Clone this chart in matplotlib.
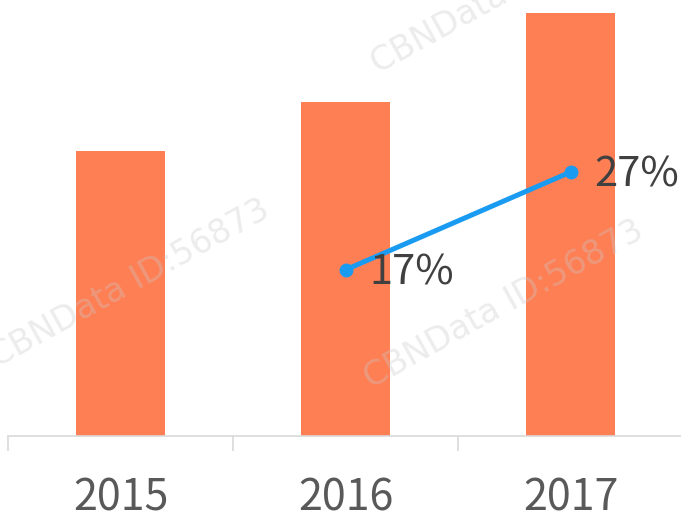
import matplotlib.pyplot as plt

years = ["2015", "2016", "2017"]
bar_values = [285, 334, 423]
growth_years = [1, 2]
growth = [17, 27]
growth_labels = ["17%", "27%"]

plt.rcParams["font.family"] = ["Noto Sans CJK SC", "DejaVu Sans"]

fig = plt.figure(figsize=(6.81, 5.16), dpi=100)
ax = fig.add_axes([8 / 681, 80 / 516, 675 / 681, 436 / 516])
x = range(len(years))
ax.bar(x, bar_values, width=0.395, color="#FF7F55", zorder=2)
ax.set_xlim(-0.5, 2.5)
ax.set_ylim(0, 436)
ax.set_yticks([])
for s in ["top", "left", "right"]:
    ax.spines[s].set_visible(False)
ax.spines["bottom"].set_color("#D9D9D9")
ax.spines["bottom"].set_linewidth(1.2)
ax.set_xticks([-0.5, 0.5, 1.5, 2.5])
ax.set_xticklabels([])
ax.tick_params(axis="x", length=11, width=1.2, color="#D9D9D9")
ax.set_xticks(list(x), minor=True)
ax.set_xticklabels(years, minor=True, fontsize=31, color="#595959")
ax.tick_params(axis="x", which="minor", length=0, pad=29)

ax2 = ax.twinx()
ax2.set_ylim(0, 44.6)
ax2.axis("off")
ax2.plot(growth_years, growth, color="#1A9BF2", lw=3.6, marker="o",
         markersize=9, zorder=3)
for xi, yi, lab in zip(growth_years, growth, growth_labels):
    ax2.annotate(lab, (xi, yi), xytext=(17, -2), textcoords="offset points",
                 va="center", ha="left", fontsize=30, color="#404040")

for wx, wy in [(0.19, 0.45), (0.74, 0.41), (0.75, 1.02)]:
    fig.text(wx, wy, "CBNData ID:56873", rotation=29, fontsize=24,
             color="#c8c8c8", alpha=0.35, ha="center", va="center",
             family=["DejaVu Sans"], zorder=10)

fig.savefig("out.png", dpi=100)
